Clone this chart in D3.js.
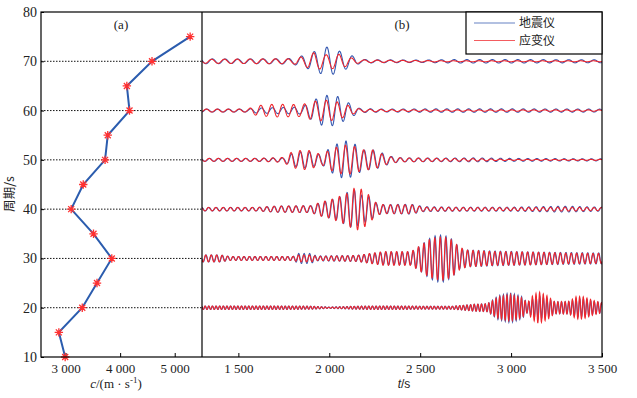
<!DOCTYPE html>
<html>
<head>
<meta charset="utf-8">
<script src="https://cdn.jsdelivr.net/npm/d3@7"></script>
<style>
    body, html { margin: 0; padding: 0; background: #fff; }
    .tick text { font-family: "Liberation Serif", "Times New Roman", serif; font-size: 13px; fill: #222; }
    .serif { font-family: "Liberation Serif", "Times New Roman", serif; font-size: 13px; fill: #222; }
    .cjk { font-family: "Noto Sans CJK SC", sans-serif; font-size: 12.5px; fill: #222; }
</style>
</head>
<body>
<div id="container"></div>
<script>
// (a) dispersion curve: period (s) vs phase velocity (m/s)
const periods = [10, 15, 20, 25, 30, 35, 40, 45, 50, 55, 60, 65, 70, 75];
const velocity = [2993, 2877, 3306, 3576, 3847, 3512, 3103, 3324, 3724, 3773, 4172, 4123, 4584, 5283];

// (b) waveforms: one trace per period, envelope (amplitude in period units)
const tracePeriods = [20, 30, 40, 50, 60, 70];
const traceCrest = [2998, 2612, 2138, 2092, 1987, 1987];   // time of a crest in the main packet

const env20Time = [1300, 1700, 1900, 2000, 2150, 2300, 2500, 2680, 2800, 2870, 2930, 2998, 3060, 3090, 3120, 3151, 3200, 3240, 3320, 3360, 3400, 3450, 3500];
const env20Blue = [0.35, 0.35, 0.3, 0.15, 0.3, 0.35, 0.3, 0.3, 0.7, 0.8, 2.4, 3.0, 2.2, 1.0, 1.8, 2.4, 1.8, 1.2, 1.2, 1.8, 1.8, 1.3, 1.0];
const env20Red  = [0.35, 0.35, 0.3, 0.1, 0.3, 0.35, 0.3, 0.3, 0.7, 0.8, 2.2, 2.7, 2.0, 1.0, 2.5, 3.2, 2.4, 1.2, 1.3, 2.3, 2.2, 1.5, 1.0];

const env30Time = [1300, 1400, 1450, 1800, 1830, 1900, 1930, 2150, 2300, 2450, 2500, 2550, 2590, 2630, 2670, 2720, 2760, 2900, 3100, 3300, 3500];
const env30Blue = [0.7, 0.7, 0.4, 0.4, 1.0, 1.0, 0.5, 0.6, 1.3, 1.3, 2.5, 4.0, 4.7, 4.7, 4.0, 2.0, 1.7, 1.5, 1.3, 1.2, 1.1];
const env30Red  = [0.7, 0.7, 0.4, 0.4, 0.7, 0.7, 0.4, 0.6, 1.4, 1.4, 2.6, 3.8, 4.3, 4.4, 3.8, 2.2, 1.7, 1.4, 1.3, 1.1, 1.0];

const env40Time = [1300, 1600, 1700, 1900, 1960, 2000, 2050, 2100, 2140, 2180, 2220, 2260, 2300, 2450, 2520, 2700, 3000, 3300, 3500];
const env40Blue = [0.35, 0.35, 0.6, 0.7, 1.4, 1.8, 2.3, 3.4, 3.9, 2.8, 2.5, 1.2, 0.9, 1.0, 0.5, 0.4, 0.4, 0.6, 0.4];
const env40Red  = [0.35, 0.35, 0.6, 0.7, 1.5, 1.8, 2.5, 3.2, 4.3, 4.0, 2.8, 1.2, 0.9, 0.9, 0.4, 0.35, 0.3, 0.4, 0.3];

const env50Time = [1300, 1600, 1750, 1790, 1840, 1880, 1930, 1960, 2000, 2050, 2090, 2140, 2190, 2240, 2290, 2340, 2400, 2600, 2800, 3000, 3500];
const env50Blue = [0.3, 0.3, 0.4, 1.2, 1.6, 1.7, 1.2, 1.0, 2.3, 3.4, 3.85, 3.2, 2.0, 2.0, 1.4, 0.7, 0.4, 0.35, 0.4, 0.3, 0.2];
const env50Red  = [0.3, 0.3, 0.5, 1.5, 1.9, 2.0, 1.4, 1.0, 2.0, 2.7, 3.0, 2.7, 2.0, 2.0, 1.2, 0.6, 0.4, 0.3, 0.25, 0.1, 0.1];

const env60Time = [1300, 1550, 1600, 1700, 1850, 1900, 1960, 2000, 2040, 2080, 2120, 2170, 2300, 2600, 3000, 3500];
const env60Blue = [0.3, 0.3, 0.5, 0.6, 0.7, 1.8, 3.0, 3.1, 3.0, 2.1, 1.3, 0.4, 0.3, 0.35, 0.35, 0.3];
const env60Red  = [0.3, 0.3, 1.0, 1.3, 1.2, 1.8, 2.1, 2.1, 1.8, 1.4, 0.8, 0.3, 0.2, 0.15, 0.15, 0.15];

const env70Time = [1300, 1500, 1700, 1800, 1860, 1920, 1980, 2010, 2060, 2120, 2170, 2250, 2500, 2700, 3000, 3500];
const env70Blue = [0.5, 0.45, 0.5, 0.6, 1.2, 2.0, 2.9, 2.8, 2.0, 1.2, 0.4, 0.3, 0.25, 0.35, 0.35, 0.3];
const env70Red  = [0.4, 0.45, 0.5, 0.5, 1.0, 1.8, 1.3, 1.5, 1.4, 0.7, 0.3, 0.25, 0.15, 0.1, 0.1, 0.1];

const envTimes = [env20Time, env30Time, env40Time, env50Time, env60Time, env70Time];
const envBlue = [env20Blue, env30Blue, env40Blue, env50Blue, env60Blue, env70Blue];
const envRed = [env20Red, env30Red, env40Red, env50Red, env60Red, env70Red];

const gridPeriods = [20, 30, 40, 50, 60, 70];
const legendLabels = ["地震仪", "应变仪"];

const width = 637, height = 398;
const topY = 12, bottomY = 357, leftA = 41, splitX = 202, rightB = 602;
const blue = "#3558b0", red = "#f0262c";

const svg = d3.select("#container").append("svg")
    .attr("width", width)
    .attr("height", height);

const y = d3.scaleLinear().domain([10, 80]).range([bottomY, topY]);
const xa = d3.scaleLinear().domain([2550, 5500]).range([leftA, splitX]);
const xb = d3.scaleLinear().domain([1300, 3500]).range([splitX, rightB]);

const fmt = d3.formatLocale({ decimal: ".", thousands: " ", grouping: [3], currency: ["", ""] }).format(",");

// dotted grid in panel (a)
svg.append("g")
    .selectAll("line")
    .data(gridPeriods)
    .join("line")
    .attr("x1", leftA).attr("x2", splitX)
    .attr("y1", d => y(d)).attr("y2", d => y(d))
    .attr("stroke", "#111")
    .attr("stroke-width", 1)
    .attr("stroke-dasharray", "1.5,1.5");

// axes
const yAxis = svg.append("g")
    .attr("transform", `translate(${leftA},0)`)
    .call(d3.axisLeft(y).tickValues(d3.range(10, 81, 10)).tickSize(-3).tickPadding(4));
yAxis.select(".domain").remove();
yAxis.selectAll(".tick text").style("font-size", "14px");

const xaAxis = svg.append("g")
    .attr("transform", `translate(0,${bottomY})`)
    .call(d3.axisBottom(xa).tickValues([3000, 4000, 5000]).tickFormat(fmt).tickSize(-4).tickPadding(7));
xaAxis.select(".domain").remove();

const xbAxis = svg.append("g")
    .attr("transform", `translate(0,${bottomY})`)
    .call(d3.axisBottom(xb).tickValues([1500, 2000, 2500, 3000, 3500]).tickFormat(fmt).tickSize(-4).tickPadding(7));
xbAxis.select(".domain").remove();

// waveforms in panel (b)
svg.append("clipPath").attr("id", "clipB")
    .append("rect").attr("x", splitX).attr("y", topY).attr("width", rightB - splitX).attr("height", bottomY - topY);

const waveGroup = svg.append("g").attr("clip-path", "url(#clipB)");
const samples = d3.range(1300, 3500.5, 1);
const line = d3.line().x(d => xb(d[0])).y(d => y(d[1]));

tracePeriods.forEach((T, i) => {
    const envB = d3.scaleLinear().domain(envTimes[i]).range(envBlue[i]);
    const envR = d3.scaleLinear().domain(envTimes[i]).range(envRed[i]);
    const w = 2 * Math.PI / T;
    const blueData = samples.map(t => [t, T + envB(t) * Math.cos(w * (t - traceCrest[i]))]);
    const redData = samples.map(t => [t, T + envR(t) * Math.cos(w * (t - traceCrest[i]) + 0.35)]);
    waveGroup.append("path").datum(blueData)
        .attr("d", line).attr("fill", "none")
        .attr("stroke", blue).attr("stroke-width", 1.1);
    waveGroup.append("path").datum(redData)
        .attr("d", line).attr("fill", "none")
        .attr("stroke", red).attr("stroke-width", 1.1);
});

// dispersion curve in panel (a)
const pts = periods.map((p, i) => [velocity[i], p]);
svg.append("path").datum(pts)
    .attr("d", d3.line().x(d => xa(d[0])).y(d => y(d[1])))
    .attr("fill", "none")
    .attr("stroke", "#2b5cae")
    .attr("stroke-width", 2);

const r = 4.2, rd = 3;
const starPath = `M${-r},0L${r},0M0,${-r}L0,${r}M${-rd},${-rd}L${rd},${rd}M${-rd},${rd}L${rd},${-rd}`;
svg.append("g")
    .selectAll("path")
    .data(pts)
    .join("path")
    .attr("transform", d => `translate(${xa(d[0])},${y(d[1])})`)
    .attr("d", starPath)
    .attr("stroke", "#ff3030")
    .attr("stroke-width", 1.3)
    .attr("fill", "none");

// frames
svg.append("rect")
    .attr("x", leftA).attr("y", topY)
    .attr("width", rightB - leftA).attr("height", bottomY - topY)
    .attr("fill", "none").attr("stroke", "#000").attr("stroke-width", 1.2);
svg.append("line")
    .attr("x1", splitX).attr("x2", splitX).attr("y1", topY).attr("y2", bottomY)
    .attr("stroke", "#000").attr("stroke-width", 1.2);

// panel labels
svg.append("text").attr("class", "serif").attr("x", 121).attr("y", 29).attr("text-anchor", "middle").text("(a)");
svg.append("text").attr("class", "serif").attr("x", 402).attr("y", 29).attr("text-anchor", "middle").text("(b)");

// legend
const legend = svg.append("g");
legend.append("rect")
    .attr("x", 466).attr("y", topY).attr("width", rightB - 466).attr("height", 42)
    .attr("fill", "#fff").attr("stroke", "#000").attr("stroke-width", 1.2);
[blue, red].forEach((c, i) => {
    const ly = 23 + i * 17.5;
    legend.append("line").attr("x1", 474).attr("x2", 515).attr("y1", ly).attr("y2", ly)
        .attr("stroke", c).attr("stroke-width", 1.1).attr("opacity", 0.75);
    legend.append("text").attr("class", "cjk").attr("x", 519).attr("y", ly + 4.3)
        .style("font-size", "12px").text(legendLabels[i]);
});

// axis titles
svg.append("text").attr("class", "cjk")
    .attr("transform", "translate(14,194) rotate(-90)")
    .attr("text-anchor", "middle")
    .text("周期/s");

const cLabel = svg.append("text").attr("class", "serif")
    .attr("x", 116).attr("y", 388).attr("text-anchor", "middle");
cLabel.append("tspan").style("font-style", "italic").text("c");
cLabel.append("tspan").text("/(m · s");
cLabel.append("tspan").attr("dy", -5).style("font-size", "9px").text("-1");
cLabel.append("tspan").attr("dy", 5).text(")");

const tLabel = svg.append("text")
    .attr("x", 404).attr("y", 388).attr("text-anchor", "middle")
    .style("font-family", "Liberation Sans, Arial, sans-serif").style("font-size", "12px").style("fill", "#222");
tLabel.append("tspan").style("font-style", "italic").text("t");
tLabel.append("tspan").text("/s");
</script>
</body>
</html>
